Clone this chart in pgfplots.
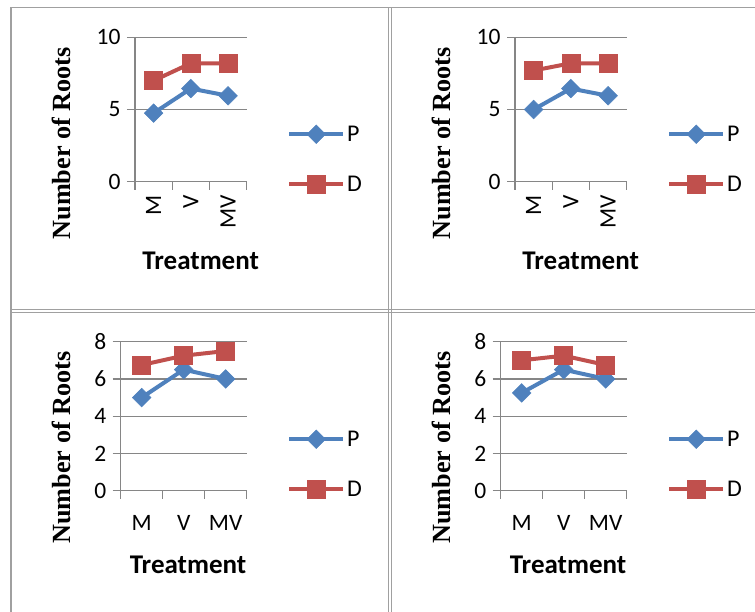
\documentclass[border=0pt]{standalone}
\usepackage{pgfplots}
\pgfplotsset{compat=1.18}
\usepackage{fontspec}
\setmainfont{Carlito}
\newfontfamily\timesfont{Liberation Serif}
\definecolor{pblue}{HTML}{4F81BD}
\definecolor{dred}{HTML}{C0504D}
\definecolor{gridgray}{HTML}{868686}
\definecolor{bordergray}{HTML}{A0A0A0}
\pgfplotsset{
  panel/.style={
    scale only axis,
    xmin=0.5, xmax=3.5, ymin=0,
    axis x line*=bottom, axis y line*=left,
    axis line style={gridgray, line width=1.3pt, -},
    xtick={0.5,1.5,2.5,3.5}, xticklabels={},
    extra x ticks={1,2,3}, extra x tick labels={M,V,MV},
    ymajorgrids, grid style={gridgray, line width=1.3pt},
    tick align=outside, major tick length=8pt,
    tick style={gridgray, line width=1.3pt},
    /pgf/number format/assume math mode=true,
    tick label style={font=\fontsize{23.5}{28}\selectfont, black},
    yticklabel style={xshift=-3pt},
    xlabel={Treatment},
    ylabel={Number of Roots},
    xlabel style={font=\fontsize{27}{32}\selectfont\bfseries, anchor=base},
    ylabel style={font=\fontsize{26.2}{30}\selectfont\timesfont\bfseries, anchor=center, rotate=0},
    legend style={draw=none, fill=none, font=\fontsize{24}{28}\selectfont,
      row sep=29pt, anchor=west, inner sep=0pt},
    legend cell align=left,
    legend image code/.code={\draw[mark repeat=2,mark phase=2,##1] plot coordinates {(0pt,0pt) (27pt,0pt) (54pt,0pt)};},
    clip=false,
  },
  pser/.style={pblue, line width=4pt, mark=square*, mark size=6.6pt, mark options={rotate=45, line width=0.5pt, fill=pblue, draw=pblue}},
  dser/.style={dred, line width=4pt, mark=square*, mark size=9pt, mark options={line width=0.5pt, fill=dred, draw=dred}},
  toprow/.style={
    width=111.7pt, height=144.4pt, ymax=10, ytick={0,5,10},
    extra x tick style={major tick length=0pt, grid=none, xticklabel style={rotate=90, anchor=east}, xticklabel shift=10pt},
    xlabel style={at={(axis description cs:0.588,-0.605)}},
    ylabel style={at={(axis description cs:-0.656,0.266)}},
    legend style={at={(axis description cs:1.361,0.156)}},
  },
  botrow/.style={
    width=126pt, height=149pt, ymax=8, ytick={0,2,4,6,8},
    extra x tick style={major tick length=0pt, grid=none, xticklabel shift=21pt},
    yticklabel style={xshift=0pt},
    xlabel style={at={(axis description cs:0.534,-0.559)}},
    ylabel style={at={(axis description cs:-0.474,0.29)}},
    legend style={at={(axis description cs:1.32,0.178)}},
  },
}
\begin{document}
\begin{tikzpicture}
\useasboundingbox (0pt,0pt) rectangle (755pt,612pt);
% table borders
\draw[bordergray, line width=1.3pt] (11pt,604.7pt) -- (755pt,604.7pt);
\draw[bordergray, line width=1.3pt] (11pt,604.7pt) -- (11pt,0pt);
\draw[bordergray, line width=1.2pt] (388.5pt,604.7pt) -- (388.5pt,0pt);
\draw[bordergray, line width=1.2pt] (391.5pt,604.7pt) -- (391.5pt,0pt);
\draw[bordergray, line width=1.2pt] (11pt,302.5pt) -- (755pt,302.5pt);
\draw[bordergray, line width=1.2pt] (11pt,299.5pt) -- (755pt,299.5pt);

\begin{axis}[panel, toprow, at={(135pt,430.3pt)}, anchor=south west]
\addplot[pser] coordinates {(1,4.75) (2,6.45) (3,5.95)};
\addlegendentry{P}
\addplot[dser] coordinates {(1,7) (2,8.2) (3,8.2)};
\addlegendentry{D}
\end{axis}

\begin{axis}[panel, toprow, at={(515pt,430.3pt)}, anchor=south west]
\addplot[pser] coordinates {(1,5) (2,6.45) (3,5.95)};
\addlegendentry{P}
\addplot[dser] coordinates {(1,7.7) (2,8.2) (3,8.2)};
\addlegendentry{D}
\end{axis}

\begin{axis}[panel, botrow, at={(120.7pt,121.3pt)}, anchor=south west]
\addplot[pser] coordinates {(1,5) (2,6.5) (3,6)};
\addlegendentry{P}
\addplot[dser] coordinates {(1,6.75) (2,7.25) (3,7.5)};
\addlegendentry{D}
\end{axis}

\begin{axis}[panel, botrow, at={(500.7pt,121.3pt)}, anchor=south west]
\addplot[pser] coordinates {(1,5.25) (2,6.5) (3,6)};
\addlegendentry{P}
\addplot[dser] coordinates {(1,7) (2,7.25) (3,6.75)};
\addlegendentry{D}
\end{axis}
\end{tikzpicture}
\end{document}
